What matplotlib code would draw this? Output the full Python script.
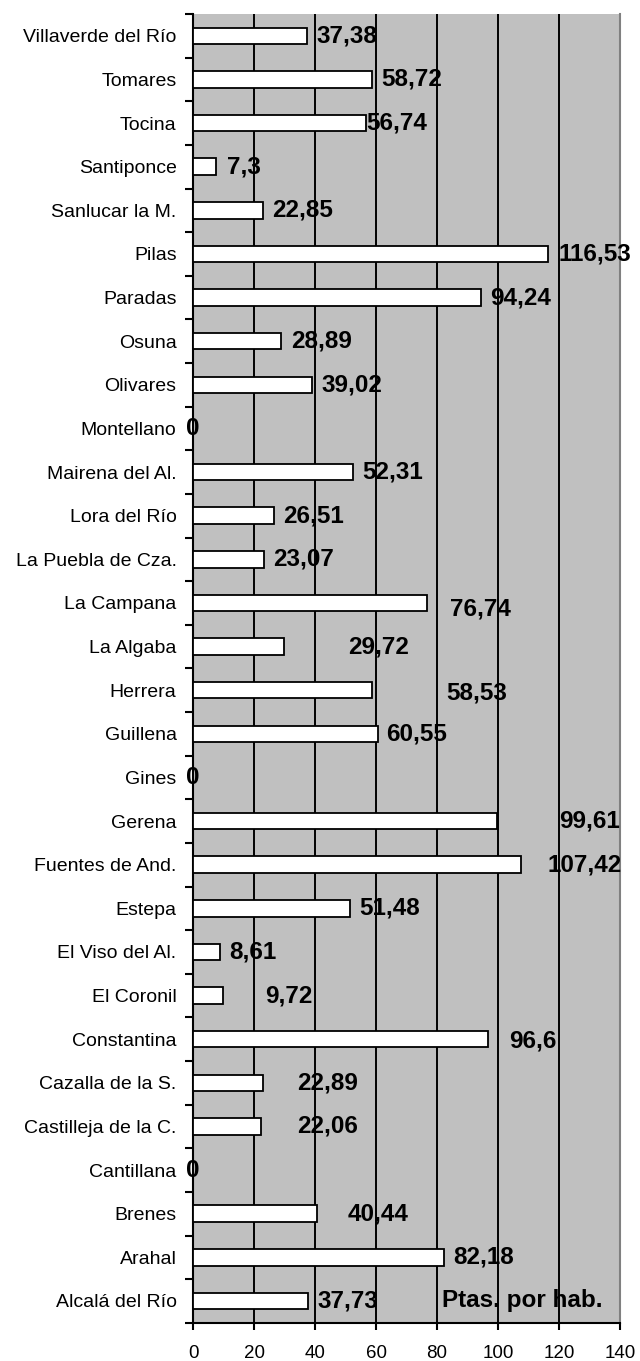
import matplotlib
matplotlib.use("Agg")
import matplotlib.pyplot as plt
import numpy as np

# ------------------------------------------------------------
# data (bottom -> top, as drawn)
# ------------------------------------------------------------
municipios = [
    "Alcalá del Río", "Arahal", "Brenes", "Cantillana", "Castilleja de la C.",
    "Cazalla de la S.", "Constantina", "El Coronil", "El Viso del Al.", "Estepa",
    "Fuentes de And.", "Gerena", "Gines", "Guillena", "Herrera",
    "La Algaba", "La Campana", "La Puebla de Cza.", "Lora del Río", "Mairena del Al.",
    "Montellano", "Olivares", "Osuna", "Paradas", "Pilas",
    "Sanlucar la M.", "Santiponce", "Tocina", "Tomares", "Villaverde del Río",
]
ptas_por_hab = [
    37.73, 82.18, 40.44, 0, 22.06,
    22.89, 96.6, 9.72, 8.61, 51.48,
    107.42, 99.61, 0, 60.55, 58.53,
    29.72, 76.74, 23.07, 26.51, 52.31,
    0, 39.02, 28.89, 94.24, 116.53,
    22.85, 7.3, 56.74, 58.72, 37.38,
]
etiquetas = [
    "37,73", "82,18", "40,44", "0", "22,06",
    "22,89", "96,6", "9,72", "8,61", "51,48",
    "107,42", "99,61", "0", "60,55", "58,53",
    "29,72", "76,74", "23,07", "26,51", "52,31",
    "0", "39,02", "28,89", "94,24", "116,53",
    "22,85", "7,3", "56,74", "58,72", "37,38",
]
x_ticks = [0, 20, 40, 60, 80, 100, 120, 140]

# where the value labels sit (left edge, data units) - they float around in the original
label_x = [
    40.8, 85.3, 50.7, -2.4, 34.2,
    34.2, 103.7, 23.5, 11.7, 54.5,
    116.2, 120.1, -2.4, 63.2, 82.9,
    50.7, 84.2, 26.3, 29.5, 55.3,
    -2.4, 42.1, 32.1, 97.4, 119.8,
    26.0, 11.1, 56.7, 61.7, 40.4,
]
label_dy = np.zeros(len(municipios))
label_dy[municipios.index("La Campana")] = -0.15
label_dy[municipios.index("Herrera")] = -0.06
label_dy[municipios.index("Constantina")] = -0.05

FONT = "Liberation Sans"

# ============================================================
#  BAR CHART
# ============================================================

fig = plt.figure(figsize=(6.4, 13.61), dpi=100)
ax = fig.add_axes([0.3020, 0.0281, 0.6667, 0.9616])
ax.set_facecolor("#c0c0c0")

y = np.arange(len(municipios))
ax.barh(y, ptas_por_hab, height=0.38, color="white",
        edgecolor="black", linewidth=1.3, zorder=3)

for yi, x0, dy, txt in zip(y, label_x, label_dy, etiquetas):
    ax.text(x0, yi + dy, txt, ha="left", va="center", fontsize=17.5,
            fontweight="bold", family=FONT, clip_on=False, zorder=5)

ax.text(81.5, 0, "Ptas. por hab.", ha="left", va="center", fontsize=17.5,
        fontweight="bold", family=FONT, zorder=5)

ax.set_xlim(0, 140)
ax.set_ylim(-0.5, len(municipios) - 0.5)

# gridlines
for g in x_ticks[1:-1]:
    ax.axvline(g, color="black", linewidth=1.4, zorder=1)

ax.set_xticks(x_ticks)
ax.set_xticklabels([str(t) for t in x_ticks], fontsize=13.5, family=FONT)
ax.tick_params(axis="x", direction="out", length=5, width=1.5, pad=11)

ax.set_yticks(y)
ax.set_yticklabels(municipios, fontsize=14, family=FONT)
ax.tick_params(axis="y", which="major", length=0, pad=12)
ax.set_yticks(np.arange(-0.5, len(municipios), 1.0), minor=True)
ax.tick_params(axis="y", which="minor", direction="out", length=6, width=1.5)

ax.spines["top"].set_visible(False)
ax.spines["right"].set_color("#808080")
ax.spines["right"].set_linewidth(1.5)
ax.spines["left"].set_linewidth(1.5)
ax.spines["bottom"].set_linewidth(1.5)

fig.savefig("out.png", dpi=100)
